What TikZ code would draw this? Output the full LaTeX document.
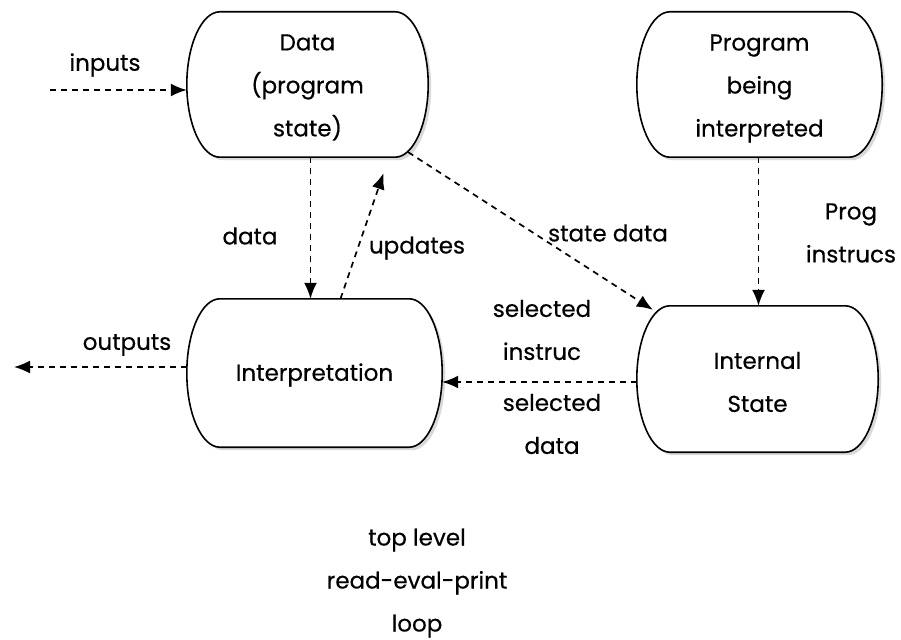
\documentclass[tikz,border=0pt]{standalone}
\usepackage{fontspec}
\setmainfont[FakeBold=0.4]{Poppins}
\usetikzlibrary{arrows.meta,shadows}
\tikzset{
  boxnode/.style={rectangle,inner sep=0pt},
  boxline/.style={line width=1.6pt,fill=white,drop shadow={opacity=0.3,shadow xshift=3pt,shadow yshift=-3pt}},
  flow/.style={line width=1.7pt,dash pattern=on 6pt off 5pt,-{Latex[length=16pt,width=13pt]}},
  lbl/.style={inner sep=0pt,align=center,font=\fontsize{23}{43}\selectfont}
}
\newcommand{\barrelpath}[1]{([xshift=33pt]#1.north west) -- ([xshift=-33pt]#1.north east)
    .. controls ([xshift=-15pt]#1.north east) and ([yshift=-33pt]#1.north east) .. (#1.east)
    .. controls ([yshift=33pt]#1.south east) and ([xshift=-15pt]#1.south east) .. ([xshift=-33pt]#1.south east)
    -- ([xshift=33pt]#1.south west)
    .. controls ([xshift=15pt]#1.south west) and ([yshift=33pt]#1.south west) .. (#1.west)
    .. controls ([yshift=-33pt]#1.north west) and ([xshift=15pt]#1.north west) .. ([xshift=33pt]#1.north west) -- cycle}
\newcommand{\barrel}[1]{%
  \path[boxline] \barrelpath{#1};
  \draw[line width=1.6pt] \barrelpath{#1};}
\begin{document}
\begin{tikzpicture}[x=1pt,y=-1pt]
\useasboundingbox (0,0) rectangle (901,639);
% box geometry nodes
\node[boxnode,minimum width=241pt,minimum height=145pt] (data) at (307.5,84.5) {};
\node[boxnode,minimum width=255pt,minimum height=148pt] (interp) at (314.5,373) {};
\node[boxnode,minimum width=245pt,minimum height=145pt] (prog) at (759.5,84.5) {};
\node[boxnode,minimum width=241pt,minimum height=146pt] (state) at (757.5,379) {};
\barrel{data}\barrel{interp}\barrel{prog}\barrel{state}
\node[lbl] at ([yshift=-3pt]data.center) {Data\\(program\\state)};
\node[lbl] at ([yshift=-2pt]interp.center) {Interpretation};
\node[lbl] at ([yshift=-4pt]prog.center) {Program\\being\\interpreted};
\node[lbl] at ([yshift=-3pt]state.center) {Internal\\State};
% free ends
\coordinate (inStart) at (50,90);
\coordinate (outEnd) at (14,367);
% connectors
\draw[flow] (inStart) -- (inStart -| data.west);
\draw[flow] ([xshift=3pt]data.south) -- ([xshift=3pt]data.south |- interp.north);
\draw[flow] ([xshift=26pt]interp.north) -- ([xshift=76pt,yshift=-16pt]data.south);
\draw[flow] ([xshift=-20pt,yshift=5pt]data.south east) -- ([xshift=16pt,yshift=-4pt]state.north west);
\draw[flow] ([xshift=-1pt]prog.south) -- ([xshift=-1pt]prog.south |- state.north);
\draw[flow] ([yshift=-3pt]state.west) -- ([yshift=-3pt]state.west -| interp.east);
\draw[flow] (outEnd -| interp.west) -- (outEnd);
% labels
\node[lbl] (linputs) at (105,65) {inputs};
\node[lbl] (ldata) at (250,236) {data};
\node[lbl] (lupd) at (417,248) {updates};
\node[lbl] (lstate) at (608,233) {state data};
\node[lbl] (lprog) at (851,233) {Prog\\instrucs};
\node[lbl] (lsi) at (542,330) {selected\\instruc};
\node[lbl] (lsd) at (552,424) {selected\\data};
\node[lbl] (lout) at (127,345) {outputs};
\node[lbl] (ltop) at (417,583) {top level\\read-eval-print\\loop};
\end{tikzpicture}
\end{document}
